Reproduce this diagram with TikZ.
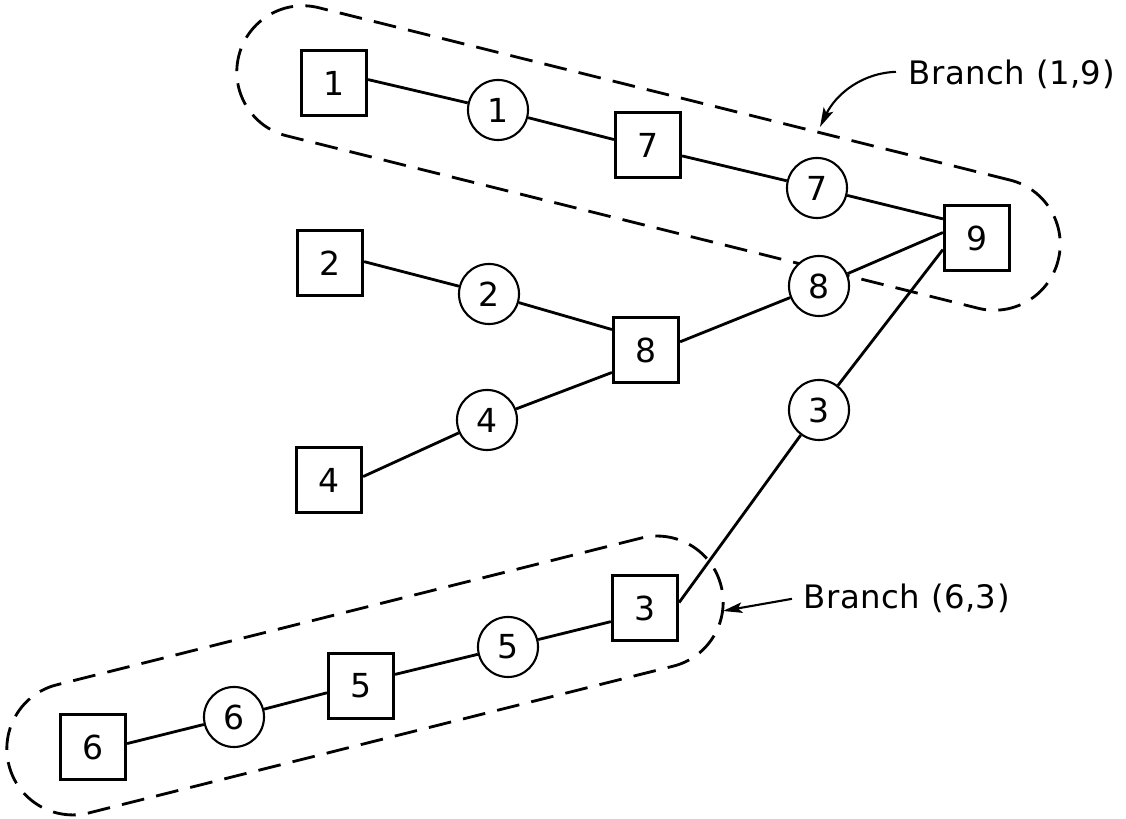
\documentclass[tikz,border=0pt]{standalone}
\usepackage{fontspec}
\setmainfont{DejaVu Sans}
\newfontfamily\lblfont[LetterSpace=1.5]{DejaVu Sans}
\usetikzlibrary{calc,arrows.meta}
\begin{document}
\begin{tikzpicture}[x=0.01cm,y=-0.01cm,
  sq/.style={draw,line width=0.9pt,fill=white,minimum width=0.65cm,minimum height=0.65cm,inner sep=0pt,font=\fontsize{9.4}{9.4}\selectfont},
  cir/.style={draw,circle,line width=0.6pt,fill=white,minimum size=0.6cm,inner sep=0pt,font=\fontsize{9.4}{9.4}\selectfont},
  link/.style={line width=0.8pt},
  branchline/.style={draw,line width=0.8pt,dash pattern=on 6.5pt off 3.5pt,rounded corners=0.659cm,inner sep=0pt},
  lbl/.style={inner sep=0pt,anchor=base west,font=\lblfont\fontsize{9.2}{9.2}\selectfont},
  pointer/.style={line width=0.6pt,-{Stealth[length=5.5pt,width=3pt,inset=1.2pt]}}]
\useasboundingbox (0,0) rectangle (1126,819);

% dashed outlines of the two branches
\node[branchline,minimum width=8.44cm,minimum height=1.32cm,rotate=-14] (br19) at (648.5,158) {};
\node[branchline,minimum width=7.34cm,minimum height=1.32cm,rotate=14.1] (br63) at (365,675.5) {};

% buses (squares) and lines (circles)
\node[sq] (s1) at (334,83) {1};
\node[cir] (c1) at (498,110) {1};
\node[sq] (s7) at (648,145) {7};
\node[cir] (c7) at (817,188) {7};
\node[sq] (s9) at (977,238) {9};
\node[sq] (s2) at (330,263) {2};
\node[cir] (c2) at (489,294) {2};
\node[sq] (s8) at (646,350) {8};
\node[cir] (c8) at (819,286) {8};
\node[cir] (c4) at (487,420) {4};
\node[sq] (s4) at (329,480) {4};
\node[cir] (c3) at (819,410) {3};
\node[sq] (s3) at (645,608) {3};
\node[cir] (c5) at (508,647) {5};
\node[sq] (s5) at (361,686) {5};
\node[cir] (c6) at (234,717) {6};
\node[sq] (s6) at (93,747) {6};

% attachment points on the square sides
\coordinate (s1e) at ($(s1.north east)!0.45!(s1.south east)$);
\coordinate (s7w) at ($(s7.north west)!0.42!(s7.south west)$);
\coordinate (s7e) at ($(s7.north east)!0.66!(s7.south east)$);
\coordinate (s9a) at ($(s9.north west)!0.22!(s9.south west)$);
\coordinate (s9b) at ($(s9.north west)!0.42!(s9.south west)$);
\coordinate (s9c) at ($(s9.north west)!0.67!(s9.south west)$);
\coordinate (s2e) at ($(s2.north east)!0.48!(s2.south east)$);
\coordinate (s8a) at ($(s8.north west)!0.2!(s8.south west)$);
\coordinate (s8b) at ($(s8.north west)!0.83!(s8.south west)$);
\coordinate (s8e) at ($(s8.north east)!0.38!(s8.south east)$);
\coordinate (s4e) at ($(s4.north east)!0.45!(s4.south east)$);
\coordinate (s3w) at ($(s3.north west)!0.7!(s3.south west)$);
\coordinate (s3e) at ($(s3.north east)!0.42!(s3.south east)$);
\coordinate (s5w) at ($(s5.north west)!0.6!(s5.south west)$);
\coordinate (s5e) at ($(s5.north east)!0.33!(s5.south east)$);
\coordinate (s6e) at ($(s6.north east)!0.45!(s6.south east)$);

% connections
\draw[link] (s1e) -- (c1);
\draw[link] (c1) -- (s7w);
\draw[link] (s7e) -- (c7);
\draw[link] (c7) -- (s9a);
\draw[link] (s2e) -- (c2);
\draw[link] (c2) -- (s8a);
\draw[link] (s4e) -- (c4);
\draw[link] (c4) -- (s8b);
\draw[link] (s8e) -- (c8);
\draw[link] (c8) -- (s9b);
\draw[link] (s9c) -- (c3);
\draw[link] (c3) -- (s3e);
\draw[link] (s3w) -- (c5);
\draw[link] (c5) -- (s5e);
\draw[link] (s5w) -- (c6);
\draw[link] (c6) -- (s6e);

% branch labels with pointers
\node[lbl] (l19) at (908,85) {Branch (1,9)};
\node[lbl] (l63) at (803,609) {Branch (6,3)};
\coordinate (t19) at (820,127);
\coordinate (t63) at (723,611);
\draw[pointer] ([xshift=-0.12cm,yshift=0.03cm]l19.west) .. controls (862,73) and (836,94) .. (t19);
\draw[pointer] ([xshift=-0.11cm]l63.west) -- (t63);
\end{tikzpicture}
\end{document}
